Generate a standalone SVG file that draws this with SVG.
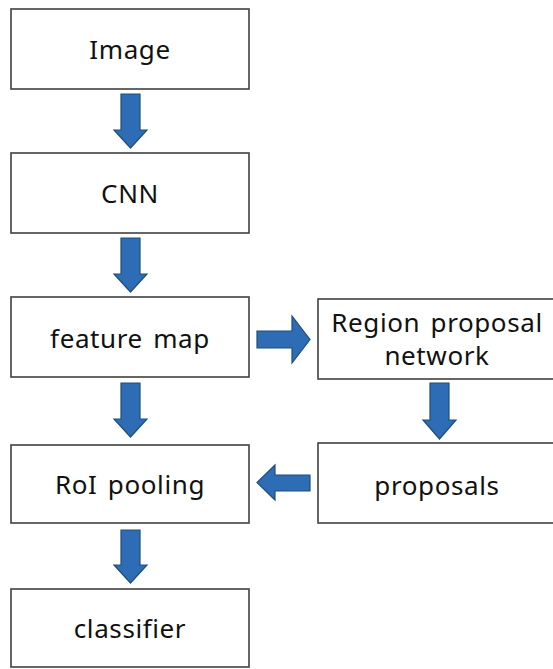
<svg xmlns="http://www.w3.org/2000/svg" width="553" height="669" viewBox="0 0 553 669">
<style>
.box{fill:#fff;stroke:#404040;stroke-width:1.6}
.t{font-family:"Noto Sans","Open Sans",sans-serif;font-size:26px;letter-spacing:0.6px;word-spacing:3px;fill:#111;text-anchor:middle}
.arr{fill:#2E6DB5;stroke:#1F4E7A;stroke-width:1.2}
</style>
<rect width="553" height="669" fill="#fff"/>
<g id="image"><rect class="box" x="11" y="9" width="238" height="80"/><text class="t" x="130" y="59">Image</text></g>
<g id="cnn"><rect class="box" x="11" y="153" width="238" height="80"/><text class="t" x="130" y="203">CNN</text></g>
<g id="featuremap"><rect class="box" x="11" y="297" width="238" height="80"/><text class="t" x="130" y="348">feature map</text></g>
<g id="roipooling"><rect class="box" x="11" y="445" width="238" height="78"/><text class="t" x="130" y="494">RoI pooling</text></g>
<g id="classifier"><rect class="box" x="11" y="589" width="238" height="78"/><text class="t" x="130" y="638">classifier</text></g>
<g id="rpn"><rect class="box" x="318" y="299" width="240" height="80"/><text class="t" x="437" y="332">Region proposal</text><text class="t" x="437" y="365">network</text></g>
<g id="proposals"><rect class="box" x="318" y="443" width="240" height="80"/><text class="t" x="437" y="495">proposals</text></g>
<g id="connectors">
<polygon class="arr" points="121,94 140,94 140,130 147,130 130.5,148 114,130 121,130"/>
<polygon class="arr" points="121,238 140,238 140,274 147,274 130.5,292 114,274 121,274"/>
<polygon class="arr" points="121,383 140,383 140,419 147,419 130.5,437 114,419 121,419"/>
<polygon class="arr" points="121,530 140,530 140,565 147,565 130.5,583 114,565 121,565"/>
<polygon class="arr" points="257,331 292,331 292,316 310,339.5 292,363 292,348 257,348"/>
<polygon class="arr" points="430,383 449,383 449,420 456,420 439.5,439 423,420 430,420"/>
<polygon class="arr" points="310,475 275,475 275,465 257,482.5 275,500 275,491 310,491"/>
</g>
</svg>
